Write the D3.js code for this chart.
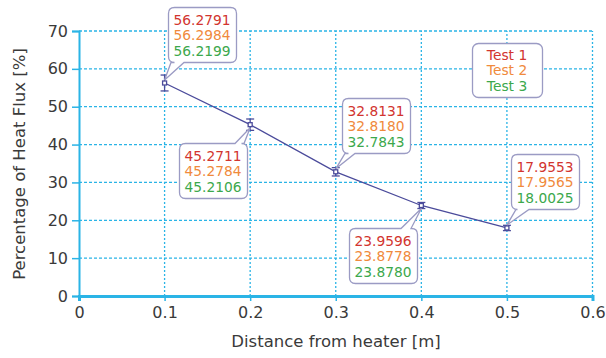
<!DOCTYPE html>
<html>
<head>
<meta charset="utf-8">
<script src="https://cdn.jsdelivr.net/npm/d3@7"></script>
<style>
  body { margin: 0; background: #fff; }
  text { font-family: "DejaVu Sans", sans-serif; }
</style>
</head>
<body>
<svg id="chart" width="606" height="358"></svg>
<script>
// data
var distance = [0.1, 0.2, 0.3, 0.4, 0.5];
var test1 = [56.2791, 45.2711, 32.8131, 23.9596, 17.9553];
var test2 = [56.2984, 45.2784, 32.8180, 23.8778, 17.9565];
var test3 = [56.2199, 45.2106, 32.7843, 23.8780, 18.0025];
var errorBar = [2.1, 1.5, 1.1, 0.8, 0.7];
var xTicks = [0, 0.1, 0.2, 0.3, 0.4, 0.5, 0.6];
var yTicks = [0, 10, 20, 30, 40, 50, 60, 70];
var testNames = ["Test 1", "Test 2", "Test 3"];
var testColors = ["#d2352f", "#f08a3c", "#3ca84c"];

var mean = distance.map(function(d, i){ return (test1[i] + test2[i] + test3[i]) / 3; });

var svg = d3.select("#chart");
var x = d3.scaleLinear().domain([0, 0.6]).range([79, 592.5]);
var y = d3.scaleLinear().domain([0, 70]).range([296, 31]);
var gridCol = "#2ab4e6";

// grid
svg.append("g").selectAll("line")
  .data(yTicks.filter(function(d){ return d > 0; }))
  .enter().append("line")
    .attr("x1", x(0)).attr("x2", x(0.6))
    .attr("y1", function(d){ return y(d); }).attr("y2", function(d){ return y(d); })
    .attr("stroke", gridCol).attr("stroke-width", 1.3)
    .attr("stroke-dasharray", "3,2");

svg.append("g").selectAll("line")
  .data(xTicks.filter(function(d){ return d > 0; }))
  .enter().append("line")
    .attr("x1", function(d){ return x(d); }).attr("x2", function(d){ return x(d); })
    .attr("y1", y(0)).attr("y2", y(70))
    .attr("stroke", gridCol).attr("stroke-width", 1.3)
    .attr("stroke-dasharray", "2,2");

// axes
var yAxis = d3.axisLeft(y).tickValues(yTicks).tickSize(7).tickPadding(4);
var gy = svg.append("g").attr("transform", "translate(" + x(0) + ",0)").call(yAxis);
gy.select(".domain").attr("stroke", gridCol).attr("stroke-width", 2);
gy.selectAll(".tick line").attr("stroke", gridCol).attr("stroke-width", 1.5);
gy.selectAll(".tick text").attr("font-size", 16).attr("fill", "#3a3a3a");

var xAxis = d3.axisBottom(x).tickValues(xTicks).tickSize(5).tickPadding(6)
  .tickFormat(function(d){ return d === 0 ? "0" : d3.format(".1f")(d); });
var gx = svg.append("g").attr("transform", "translate(0," + y(0) + ")").call(xAxis);
gx.select(".domain").attr("stroke", gridCol).attr("stroke-width", 3);
gx.selectAll(".tick line").attr("stroke", gridCol).attr("stroke-width", 1.5);
gx.selectAll(".tick text").attr("font-size", 16).attr("fill", "#3a3a3a");

// axis titles
svg.append("text")
  .attr("x", 336).attr("y", 347)
  .attr("text-anchor", "middle").attr("font-size", 16.5).attr("fill", "#3a3a3a")
  .text("Distance from heater [m]");
svg.append("text")
  .attr("transform", "translate(25,164) rotate(-90)")
  .attr("text-anchor", "middle").attr("font-size", 16.5).attr("fill", "#3a3a3a")
  .text("Percentage of Heat Flux [%]");

// series line
var lineCol = "#4b4b9b";
svg.append("path")
  .datum(distance)
  .attr("d", d3.line()
    .x(function(d){ return x(d); })
    .y(function(d, i){ return y(mean[i]); }))
  .attr("fill", "none").attr("stroke", lineCol).attr("stroke-width", 1.3);

// error bars
var eb = svg.append("g").attr("stroke", lineCol).attr("stroke-width", 1.3);
distance.forEach(function(d, i){
  var cx = x(d), top = y(mean[i] + errorBar[i]), bot = y(mean[i] - errorBar[i]);
  eb.append("line").attr("x1", cx).attr("x2", cx).attr("y1", top).attr("y2", bot);
  eb.append("line").attr("x1", cx - 4).attr("x2", cx + 4).attr("y1", top).attr("y2", top);
  eb.append("line").attr("x1", cx - 4).attr("x2", cx + 4).attr("y1", bot).attr("y2", bot);
  eb.append("rect").attr("x", cx - 2).attr("y", y(mean[i]) - 2)
    .attr("width", 4).attr("height", 4).attr("fill", "#fff");
});

// callouts
function calloutPath(bx, by, w, h, r, side, a, b, px, py) {
  var p = "M" + (bx + r) + "," + by;
  if (side === "top") p += "L" + a + "," + by + "L" + px + "," + py + "L" + b + "," + by;
  p += "L" + (bx + w - r) + "," + by + "Q" + (bx + w) + "," + by + " " + (bx + w) + "," + (by + r);
  p += "L" + (bx + w) + "," + (by + h - r) + "Q" + (bx + w) + "," + (by + h) + " " + (bx + w - r) + "," + (by + h);
  if (side === "bottom") p += "L" + b + "," + (by + h) + "L" + px + "," + py + "L" + a + "," + (by + h);
  p += "L" + (bx + r) + "," + (by + h) + "Q" + bx + "," + (by + h) + " " + bx + "," + (by + h - r);
  p += "L" + bx + "," + (by + r) + "Q" + bx + "," + by + " " + (bx + r) + "," + by + "Z";
  return p;
}

var boxCol = "#9b9bc4";
var boxW = 68, boxH = 55;
// box placement relative to each point: [dx, dy, tail side, tail start, tail end]
var boxPlace = [
  [3, -76, "bottom", 3, 16],
  [-71, 18, "top", 56, 65],
  [6, -74, "bottom", 3, 13],
  [-72, 22, "top", 52, 62],
  [4, -74, "bottom", 5, 18]
];

distance.forEach(function(d, i){
  var px = x(d), py = y(mean[i]) + (boxPlace[i][2] === "bottom" ? -3 : 3);
  var bx = Math.round(px + boxPlace[i][0]), by = Math.round(y(mean[i]) + boxPlace[i][1]);
  svg.append("path")
    .attr("d", calloutPath(bx + 0.5, by + 0.5, boxW, boxH, 6, boxPlace[i][2],
      bx + boxPlace[i][3], bx + boxPlace[i][4], px, py))
    .attr("fill", "#fff").attr("stroke", boxCol).attr("stroke-width", 1.3);
  [test1[i], test2[i], test3[i]].forEach(function(v, k){
    svg.append("text")
      .attr("x", bx + boxW / 2).attr("y", by + 17.5 + k * 15.7)
      .attr("text-anchor", "middle").attr("font-size", 13.8)
      .attr("fill", testColors[k])
      .text(d3.format(".4f")(v));
  });
});

// legend
var lg = svg.append("g").attr("transform", "translate(472,43)");
lg.append("rect").attr("x", 0.5).attr("y", 0.5).attr("width", 70).attr("height", 54)
  .attr("rx", 6).attr("fill", "#fff").attr("stroke", boxCol).attr("stroke-width", 1.3);
testNames.forEach(function(t, k){
  lg.append("text").attr("x", 35).attr("y", 16.5 + k * 15.7)
    .attr("text-anchor", "middle").attr("font-size", 13.8)
    .attr("fill", testColors[k]).text(t);
});
</script>
</body>
</html>
